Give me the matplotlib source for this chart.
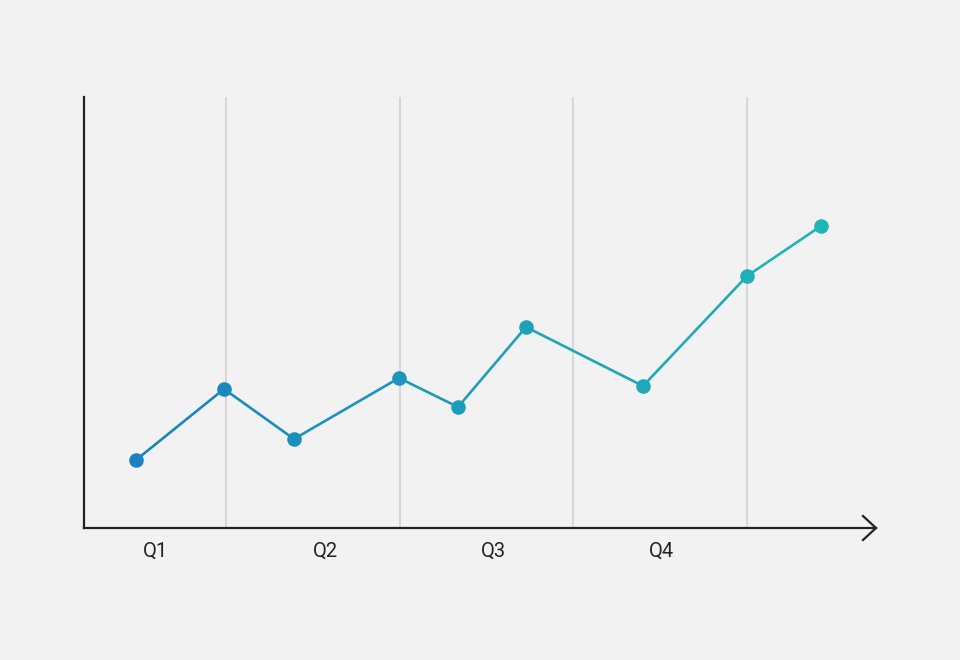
import numpy as np
import matplotlib.pyplot as plt
from matplotlib.colors import to_rgb

plt.rcParams['font.family'] = ['Roboto', 'DejaVu Sans']

# positions along the axis (pixel-like units) and values
x_pos = [136, 224, 294, 399, 458, 526, 643, 747, 821]
values = [6.8, 13.9, 8.9, 15.0, 12.1, 20.1, 14.2, 25.2, 30.2]
quarters = ['Q1', 'Q2', 'Q3', 'Q4']
quarter_pos = [156, 325, 493, 661]
grid_pos = [226, 400, 573, 747]

start_col = np.array(to_rgb('#1a82c0'))
end_col = np.array(to_rgb('#22b5b5'))

bg = '#f2f2f2'
fig = plt.figure(figsize=(9.6, 6.6), dpi=100, facecolor=bg)
ax = fig.add_axes([84 / 960, 132 / 660, 792 / 960, 431 / 660])
ax.set_facecolor(bg)
ax.set_xlim(84, 876)
ax.set_ylim(0, 43.1)

for g in grid_pos:
    ax.axvline(g, color='#d2d2d2', lw=1.2, zorder=1)

n = len(x_pos)
cols = [start_col + (end_col - start_col) * i / (n - 1) for i in range(n)]
for i in range(n - 1):
    c = (cols[i] + cols[i + 1]) / 2
    ax.plot(x_pos[i:i + 2], values[i:i + 2], color=c, lw=1.9,
            solid_capstyle='round', zorder=2)
for i in range(n):
    ax.plot(x_pos[i], values[i], 'o', color=cols[i], ms=10.5,
            mec='none', zorder=3)

for s in ['top', 'right']:
    ax.spines[s].set_visible(False)
for s in ['left', 'bottom']:
    ax.spines[s].set_color('#222222')
    ax.spines[s].set_linewidth(1.6)

# arrow head on the x axis
ax.plot([863, 876, 863], [1.2, 0, -1.2], color='#222222', lw=1.6,
        clip_on=False, solid_joinstyle='miter', zorder=4)

ax.set_yticks([])
ax.set_xticks(quarter_pos)
ax.set_xticklabels(quarters, fontsize=14.5, color='#222222')
ax.tick_params(axis='x', length=0, pad=10)

fig.savefig('out.png', dpi=100, facecolor=bg)
